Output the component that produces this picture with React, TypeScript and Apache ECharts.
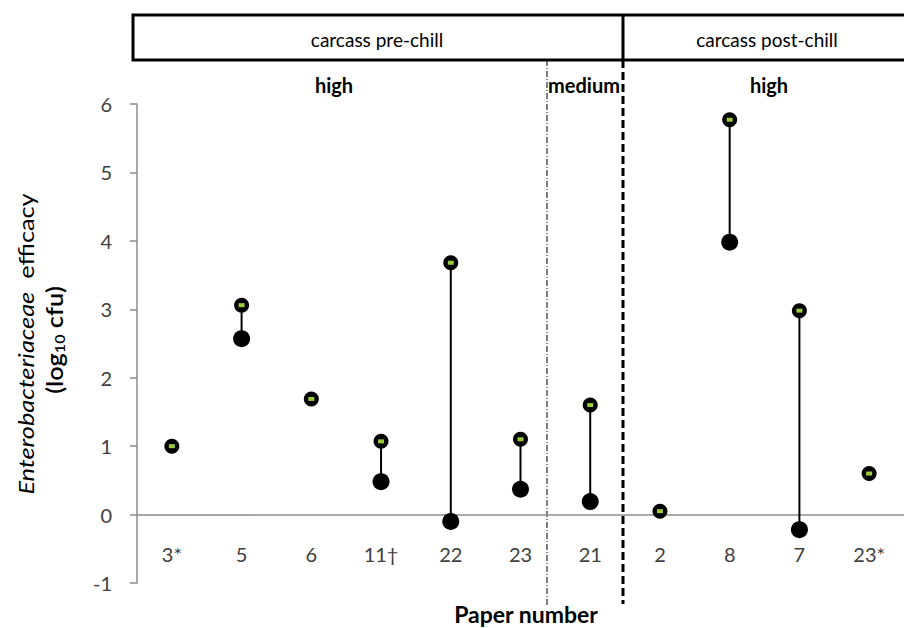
import React, { useEffect, useRef } from "react";
import * as echarts from "echarts";

const categories = ["3*", "5", "6", "11†", "22", "23", "21", "2", "8", "7", "23*"];
const highValues = [1.0, 3.06, 1.69, 1.07, 3.68, 1.1, 1.6, 0.05, 5.77, 2.98, 0.6];
const lowValues: (number | null)[] = [null, 2.57, null, 0.48, -0.1, 0.37, 0.19, null, 3.98, -0.22, null];
const yTicks = [-1, 0, 1, 2, 3, 4, 5, 6];

const FONT = "Lato, 'Open Sans', sans-serif";

export default function App() {
  const ref = useRef<HTMLDivElement>(null);
  useEffect(() => {
    if (!ref.current) return;
    const chart = echarts.init(ref.current, null, { renderer: "svg" });
    const pairs = lowValues
      .map((lo, i) => (lo === null ? null : [i, lo, highValues[i]]))
      .filter((d) => d !== null);
    const gridTop = 104;
    const gridBottom = 45;
    const gridH = 628 - gridTop - gridBottom;
    const yMin = yTicks[0];
    const yMax = yTicks[yTicks.length - 1];
    const zeroOffset = -((0 - yMin) / (yMax - yMin)) * gridH;
    chart.setOption({
      animation: false,
      grid: { left: 137, right: -9, top: gridTop, bottom: gridBottom },
      xAxis: {
        type: "category",
        data: categories,
        offset: zeroOffset,
        axisLine: { onZero: false, lineStyle: { color: "#8c8c8c", width: 1.5 } },
        axisTick: { show: false },
        axisLabel: { margin: 29, color: "#404040", fontSize: 20, fontFamily: FONT },
        splitLine: { show: false },
      },
      yAxis: {
        type: "value",
        min: yMin,
        max: yMax,
        interval: 1,
        axisLine: { show: true, onZero: false, lineStyle: { color: "#8c8c8c", width: 1.5 } },
        axisTick: { show: true, length: 7, lineStyle: { color: "#8c8c8c", width: 1.5 } },
        axisLabel: { margin: 25, color: "#404040", fontSize: 20, fontFamily: FONT },
        splitLine: { show: false },
      },
      series: [
        {
          type: "custom",
          data: pairs,
          encode: { x: 0, y: [1, 2] },
          z: 1,
          renderItem: (params: any, api: any) => {
            const i = api.value(0);
            const p1 = api.coord([i, api.value(1)]);
            const p2 = api.coord([i, api.value(2)]);
            return {
              type: "line",
              shape: { x1: p1[0], y1: p1[1], x2: p2[0], y2: p2[1] },
              style: { stroke: "#000", lineWidth: 2 },
            };
          },
        },
        {
          type: "scatter",
          data: lowValues.map((v, i) => (v === null ? null : [i, v])),
          symbol: "circle",
          symbolSize: 17,
          itemStyle: { color: "#000", opacity: 1 },
          z: 2,
        },
        {
          type: "scatter",
          data: highValues.map((v, i) => [i, v]),
          symbol: "circle",
          symbolSize: 15,
          itemStyle: { color: "#000", opacity: 1 },
          z: 3,
        },
        {
          type: "scatter",
          data: highValues.map((v, i) => [i, v]),
          symbol: "rect",
          symbolSize: [6, 4],
          itemStyle: { color: "#9ccc3c", opacity: 1 },
          z: 4,
        },
      ],
      graphic: [
        {
          type: "rect",
          shape: { x: 133, y: 15, width: 800, height: 45 },
          style: { fill: "none", stroke: "#000", lineWidth: 3 },
        },
        {
          type: "line",
          shape: { x1: 623, y1: 15, x2: 623, y2: 60 },
          style: { stroke: "#000", lineWidth: 3 },
        },
        {
          type: "line",
          shape: { x1: 623, y1: 60, x2: 623, y2: 604 },
          style: { stroke: "#000", lineWidth: 3, lineDash: [8, 4] },
        },
        {
          type: "line",
          shape: { x1: 547, y1: 60, x2: 547, y2: 606 },
          style: { stroke: "#000", lineWidth: 1, lineDash: [6, 2, 1, 2] },
        },
        {
          type: "text",
          x: 377,
          y: 39,
          style: { text: "carcass pre-chill", fill: "#000", fontSize: 19, fontFamily: FONT, align: "center", verticalAlign: "middle" },
        },
        {
          type: "text",
          x: 767,
          y: 39,
          style: { text: "carcass post-chill", fill: "#000", fontSize: 19, fontFamily: FONT, align: "center", verticalAlign: "middle" },
        },
        {
          type: "text",
          x: 334,
          y: 85,
          style: { text: "high", fill: "#000", fontSize: 20, fontWeight: "bold", fontFamily: FONT, align: "center", verticalAlign: "middle" },
        },
        {
          type: "text",
          x: 584,
          y: 85,
          style: { text: "medium", fill: "#000", fontSize: 20, fontWeight: "bold", fontFamily: FONT, align: "center", verticalAlign: "middle" },
        },
        {
          type: "text",
          x: 769,
          y: 85,
          style: { text: "high", fill: "#000", fontSize: 20, fontWeight: "bold", fontFamily: FONT, align: "center", verticalAlign: "middle" },
        },
        {
          type: "text",
          x: 526,
          y: 614,
          style: { text: "Paper number", fill: "#000", fontSize: 23, fontWeight: "bold", fontFamily: FONT, align: "center", verticalAlign: "middle" },
        },
        {
          type: "text",
          x: 26,
          y: 344,
          rotation: Math.PI / 2,
          scaleX: 1.15,
          style: {
            text: "{i|Enterobacteriaceae}  efficacy",
            fill: "#000",
            fontSize: 22,
            fontFamily: FONT,
            align: "center",
            verticalAlign: "middle",
            rich: { i: { fontStyle: "italic", fontSize: 22, fontFamily: FONT, fill: "#000" } },
          },
        },
        {
          type: "text",
          x: 55,
          y: 340,
          rotation: Math.PI / 2,
          scaleX: 1.15,
          style: {
            text: "{a|(log}{s|10}{a| cfu)}",
            fill: "#000",
            fontSize: 22,
            fontFamily: FONT,
            align: "center",
            verticalAlign: "middle",
            rich: {
              a: { fontSize: 22, fontFamily: FONT, fill: "#000", fontWeight: 600 },
              s: { fontSize: 14, fontFamily: FONT, fill: "#000", fontWeight: 600, verticalAlign: "bottom" },
            },
          },
        },
      ],
    });
    return () => chart.dispose();
  }, []);
  return <div ref={ref} style={{ width: 904, height: 628, position: "absolute", left: 0, top: 0 }} />;
}
